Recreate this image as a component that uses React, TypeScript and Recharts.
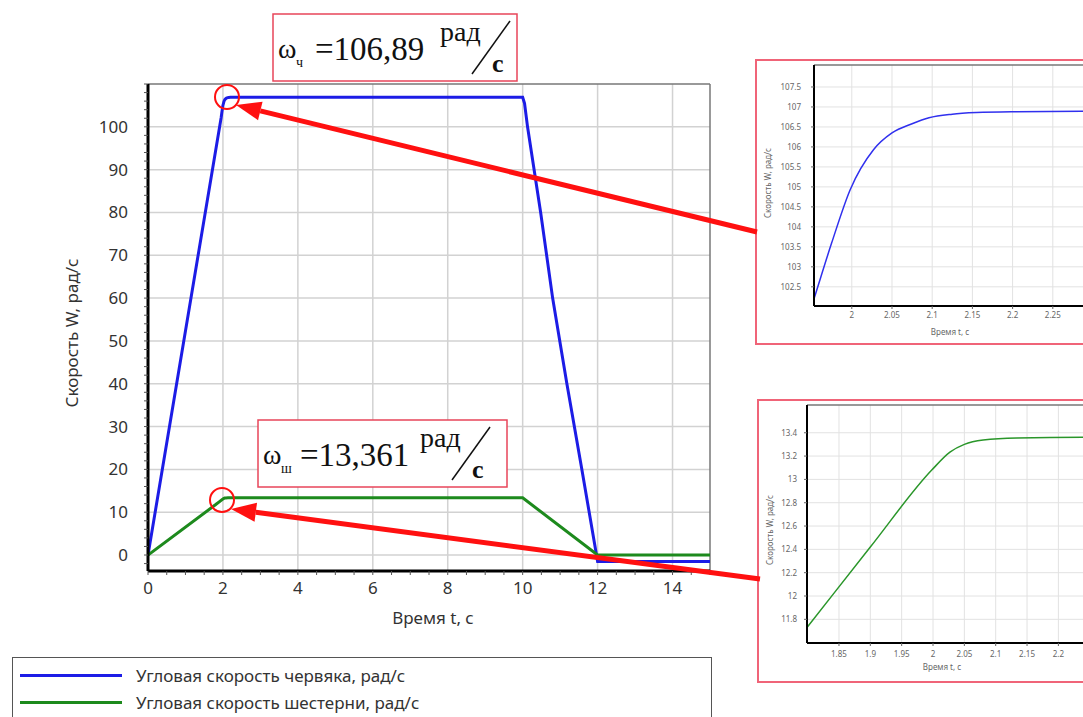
import React from "react";
import {
  LineChart,
  Line,
  XAxis,
  YAxis,
  CartesianGrid,
  ReferenceLine,
  Legend,
} from "recharts";

const FONT = "'Noto Sans', 'DejaVu Sans', sans-serif";
const SERIF = "'Liberation Serif', 'DejaVu Serif', serif";

const seriesNames = [
  "Угловая скорость червяка, рад/с",
  "Угловая скорость шестерни, рад/с",
];

// установившиеся значения
const wormSteady = 106.89;
const gearSteady = 13.361;

// червяк
const wormTime = [0, 1.953, 1.975, 1.998, 2.027, 2.05, 2.075, 2.096, 2.125, 2.155, 2.2, 2.286, 10, 10.05, 10.13, 10.48, 10.8, 11.18, 11.58, 12, 15];
const wormSpeed = [0, 102.2, 103.6, 104.93, 105.93, 106.35, 106.58, 106.73, 106.82, 106.86, 106.88, wormSteady, wormSteady, 105.5, 100, 80, 60, 40, 20, -1.5, -1.5];

// шестерня
const gearTime = [0, 1.799, 1.9, 1.998, 2.027, 2.05, 2.08, 2.134, 2.24, 10, 12, 15];
const gearSpeed = [0, 11.73, 12.42, 13.08, 13.234, 13.3, 13.337, 13.355, gearSteady, gearSteady, 0, 0];

const timeTicks = [0, 2, 4, 6, 8, 10, 12, 14];
const speedTicks = [0, 10, 20, 30, 40, 50, 60, 70, 80, 90, 100];

const wormZoomTimeTicks = [2, 2.05, 2.1, 2.15, 2.2, 2.25];
const wormZoomSpeedTicks = [102.5, 103, 103.5, 104, 104.5, 105, 105.5, 106, 106.5, 107, 107.5];
const gearZoomTimeTicks = [1.85, 1.9, 1.95, 2, 2.05, 2.1, 2.15, 2.2];
const gearZoomSpeedTicks = [11.8, 12, 12.2, 12.4, 12.6, 12.8, 13, 13.2, 13.4];

// мелкие засечки на осях
const minorTime = Array.from({ length: 31 }, (_, i) => i * 0.5);
const minorSpeed = Array.from({ length: 57 }, (_, i) => -2 + i * 2);

const BLUE = "#1c1ce6";
const GREEN = "#1d8a1d";
const RED = "#ff1010";
const BOX_RED = "#e8455a";

const fmtComma = (v: number) => String(v).replace(".", ",");

function Arrow({ x1, y1, x2, y2 }: { x1: number; y1: number; x2: number; y2: number }) {
  const dx = x2 - x1;
  const dy = y2 - y1;
  const len = Math.hypot(dx, dy);
  const ux = dx / len;
  const uy = dy / len;
  const hl = 25;
  const hw = 9.5;
  const bx = x2 - ux * hl;
  const by = y2 - uy * hl;
  const pts = `${x2},${y2} ${bx - uy * hw},${by + ux * hw} ${bx + uy * hw},${by - ux * hw}`;
  return (
    <g>
      <line x1={x1} y1={y1} x2={bx} y2={by} stroke={RED} strokeWidth={5} />
      <polygon points={pts} fill={RED} />
    </g>
  );
}

// ω с индексом, значение и единица рад/с дробью
function Formula({
  x, y, w, sub, value, unitX,
}: { x: number; y: number; w: number; sub: string; value: string; unitX: number }) {
  return (
    <g fontFamily={SERIF} fill="#111">
      <rect x={x} y={y} width={w} height={67} fill="#fff" stroke={BOX_RED} strokeWidth={1.5} />
      <text x={x + 5} y={y + 44} fontSize={28}>ω</text>
      <text x={x + 23} y={y + 53} fontSize={14}>{sub}</text>
      <text x={x + 42} y={y + 46} fontSize={33}>{"=" + value}</text>
      <text x={unitX} y={y + 27} fontSize={28}>рад</text>
      <line x1={unitX + 32} y1={y + 60} x2={unitX + 70} y2={y + 7} stroke="#111" strokeWidth={1.5} />
      <text x={unitX + 52} y={y + 58} fontSize={26} fontWeight="bold">с</text>
    </g>
  );
}

export default function App() {
  const wormData = wormTime.map((t, i) => ({ t, w: wormSpeed[i] }));
  const gearData = gearTime.map((t, i) => ({ t, w: gearSpeed[i] }));

  const smallTick = { fill: "#666", fontSize: 8, fontFamily: FONT };

  return (
    <div
      style={{
        position: "absolute",
        left: 0,
        top: 0,
        width: 1083,
        height: 717,
        overflow: "hidden",
        background: "#fff",
      }}
    >
      {/* основной график */}
      <div style={{ position: "absolute", left: 0, top: 0 }}>
        <LineChart width={1083} height={717} margin={{ top: 84, right: 373, bottom: 121, left: 88 }}>
          <CartesianGrid
            xAxisId="t"
            yAxisId="w"
            stroke="#d2d2d2"
            strokeWidth={1.5}
            horizontalValues={speedTicks}
            verticalValues={timeTicks}
          />
          <XAxis
            xAxisId="t"
            type="number"
            dataKey="t"
            domain={[0, 15]}
            allowDataOverflow
            ticks={minorTime}
            interval={0}
            tickFormatter={(v: number) => (timeTicks.includes(v) ? String(v) : "")}
            height={25}
            tickSize={4}
            tickMargin={7}
            axisLine={{ stroke: "#000", strokeWidth: 3 }}
            tickLine={{ stroke: "#555" }}
            tick={{ fill: "#333", fontSize: 17, fontFamily: FONT }}
          />
          <YAxis
            yAxisId="w"
            type="number"
            domain={[-3.73, 110]}
            allowDataOverflow
            ticks={minorSpeed}
            interval={0}
            tickFormatter={(v: number) => (speedTicks.includes(v) ? String(v) : "")}
            width={60}
            tickSize={4}
            tickMargin={16}
            axisLine={{ stroke: "#000", strokeWidth: 3 }}
            tickLine={{ stroke: "#555" }}
            tick={{ fill: "#333", fontSize: 17, fontFamily: FONT }}
          />
          <ReferenceLine xAxisId="t" yAxisId="w" y={110} stroke="#777" strokeWidth={1.5} />
          <ReferenceLine xAxisId="t" yAxisId="w" x={15} stroke="#777" strokeWidth={1.5} />
          <Line
            xAxisId="t"
            yAxisId="w"
            data={wormData}
            dataKey="w"
            name={seriesNames[0]}
            type="linear"
            stroke={BLUE}
            strokeWidth={3}
            dot={false}
            isAnimationActive={false}
          />
          <Line
            xAxisId="t"
            yAxisId="w"
            data={gearData}
            dataKey="w"
            name={seriesNames[1]}
            type="linear"
            stroke={GREEN}
            strokeWidth={3}
            dot={false}
            isAnimationActive={false}
          />
          <Legend
            layout="horizontal"
            verticalAlign="middle"
            align="center"
            wrapperStyle={{ left: 12, top: 657, width: 700, height: 80 }}
            content={({ payload }: any) => (
              <div
                style={{
                  border: "1.5px solid #555",
                  height: 80,
                  boxSizing: "border-box",
                  background: "#fff",
                  paddingTop: 4,
                }}
              >
                {(payload || []).map((p: any) => (
                  <div key={p.value} style={{ display: "flex", alignItems: "center", height: 27 }}>
                    <span
                      style={{
                        display: "inline-block",
                        width: 102,
                        height: 3.5,
                        background: p.color,
                        marginLeft: 7,
                        marginRight: 14,
                      }}
                    />
                    <span style={{ fontSize: 17, color: "#333", fontFamily: FONT }}>{p.value}</span>
                  </div>
                ))}
              </div>
            )}
          />
        </LineChart>
      </div>

      {/* увеличенный фрагмент: червяк */}
      <div
        style={{
          position: "absolute",
          left: 755,
          top: 59,
          width: 400,
          height: 286,
          border: "2.5px solid #f06478",
          boxSizing: "border-box",
          background: "#fff",
        }}
      />
      <div style={{ position: "absolute", left: 755, top: 59 }}>
        <LineChart width={400} height={286} margin={{ top: 6, right: 62, bottom: 14, left: 19 }}>
          <CartesianGrid
            stroke="#e2e2e2"
            horizontalValues={wormZoomSpeedTicks}
            verticalValues={wormZoomTimeTicks}
          />
          <XAxis
            type="number"
            dataKey="t"
            domain={[1.953, 2.3]}
            allowDataOverflow
            ticks={wormZoomTimeTicks}
            interval={0}
            height={25}
            tickSize={3}
            tickMargin={3}
            axisLine={{ stroke: "#000", strokeWidth: 2 }}
            tickLine={{ stroke: "#666" }}
            tick={smallTick}
          />
          <YAxis
            type="number"
            domain={[102.02, 108.05]}
            allowDataOverflow
            ticks={wormZoomSpeedTicks}
            interval={0}
            width={40}
            tickSize={3}
            tickMargin={10}
            axisLine={{ stroke: "#000", strokeWidth: 2 }}
            tickLine={{ stroke: "#666" }}
            tick={smallTick}
          />
          <ReferenceLine y={108.05} stroke="#777" strokeWidth={1.5} />
          <Line
            data={wormData}
            dataKey="w"
            type="monotone"
            stroke="#3030ee"
            strokeWidth={1.5}
            dot={false}
            isAnimationActive={false}
          />
        </LineChart>
      </div>

      {/* увеличенный фрагмент: шестерня */}
      <div
        style={{
          position: "absolute",
          left: 757,
          top: 399,
          width: 400,
          height: 284,
          border: "2.5px solid #f06478",
          boxSizing: "border-box",
          background: "#fff",
        }}
      />
      <div style={{ position: "absolute", left: 757, top: 399 }}>
        <LineChart width={400} height={284} margin={{ top: 6, right: 61, bottom: 15, left: 10 }}>
          <CartesianGrid
            stroke="#e2e2e2"
            horizontalValues={gearZoomSpeedTicks}
            verticalValues={gearZoomTimeTicks}
          />
          <XAxis
            type="number"
            dataKey="t"
            domain={[1.799, 2.26]}
            allowDataOverflow
            ticks={gearZoomTimeTicks}
            interval={0}
            height={25}
            tickSize={3}
            tickMargin={5}
            axisLine={{ stroke: "#000", strokeWidth: 2 }}
            tickLine={{ stroke: "#666" }}
            tick={smallTick}
          />
          <YAxis
            type="number"
            domain={[11.597, 13.638]}
            allowDataOverflow
            ticks={gearZoomSpeedTicks}
            interval={0}
            width={40}
            tickSize={3}
            tickMargin={7}
            axisLine={{ stroke: "#000", strokeWidth: 2 }}
            tickLine={{ stroke: "#666" }}
            tick={smallTick}
          />
          <ReferenceLine y={13.638} stroke="#777" strokeWidth={1.5} />
          <Line
            data={gearData}
            dataKey="w"
            type="monotone"
            stroke="#2a962a"
            strokeWidth={1.5}
            dot={false}
            isAnimationActive={false}
          />
        </LineChart>
      </div>

      {/* подписи осей, пояснения и стрелки */}
      <svg
        width={1083}
        height={717}
        style={{ position: "absolute", left: 0, top: 0, pointerEvents: "none" }}
      >
        <text
          x={0}
          y={0}
          transform="translate(78 333) rotate(-90)"
          textAnchor="middle"
          fontSize={17}
          fontFamily={FONT}
          fill="#333"
        >
          Скорость W, рад/с
        </text>
        <text x={433} y={624} textAnchor="middle" fontSize={17} fontFamily={FONT} fill="#333">
          Время t, с
        </text>

        <text x={0} y={0} transform="translate(771 183) rotate(-90)" textAnchor="middle" fontSize={8} fontFamily={FONT} fill="#666">
          Скорость W, рад/с
        </text>
        <text x={950} y={335} textAnchor="middle" fontSize={8} fontFamily={FONT} fill="#666">
          Время t, с
        </text>
        <text x={0} y={0} transform="translate(773 530) rotate(-90)" textAnchor="middle" fontSize={8} fontFamily={FONT} fill="#666">
          Скорость W, рад/с
        </text>
        <text x={942} y={670} textAnchor="middle" fontSize={8} fontFamily={FONT} fill="#666">
          Время t, с
        </text>

        <Formula x={273} y={14} w={244} sub="ч" value={fmtComma(wormSteady)} unitX={440} />
        <Formula x={258} y={420} w={249} sub="ш" value={fmtComma(gearSteady)} unitX={420} />

        <circle cx={227} cy={97} r={12} fill="none" stroke={RED} strokeWidth={2} />
        <circle cx={222} cy={500} r={12} fill="none" stroke={RED} strokeWidth={2} />

        <Arrow x1={757} y1={232} x2={236} y2={105} />
        <Arrow x1={760} y1={579} x2={231} y2={509} />
      </svg>
    </div>
  );
}
